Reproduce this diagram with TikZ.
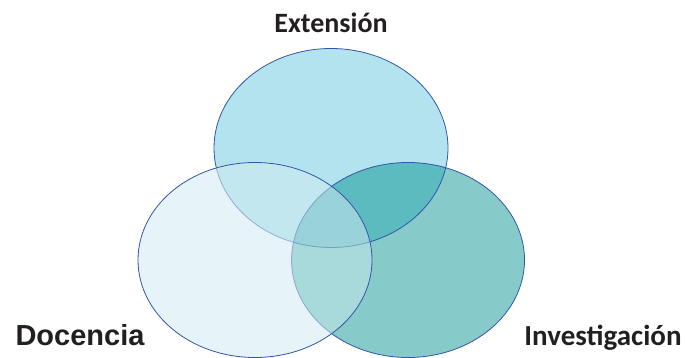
\documentclass[tikz,border=0pt]{standalone}
\usepackage{fontspec}
\setmainfont{Carlito}
\newfontfamily\arialfont{Liberation Sans}
\definecolor{cTop}{HTML}{B3E3EE}
\definecolor{cLeft}{HTML}{E6F3F9}
\definecolor{cRight}{HTML}{86CBCA}
\definecolor{cTR}{HTML}{5CBBBF}
\definecolor{cTL}{HTML}{C3E7EF}
\definecolor{cLR}{HTML}{A8D9DB}
\definecolor{cAll}{HTML}{99D2D8}
\definecolor{cEdge}{HTML}{3356A8}
\definecolor{cText}{HTML}{231F20}

% the three circles of the diagram
\def\ellT{(331,148) ellipse [x radius=117, y radius=99.5]}
\def\ellL{(255,260) ellipse [x radius=117, y radius=97.5]}
\def\ellR{(408,260) ellipse [x radius=116.5, y radius=97.5]}

% fills of every region, overlaps included
\newcommand{\vennfills}{%
  \fill[cTop] \ellT;
  \fill[cRight] \ellR;
  \fill[cLeft] \ellL;
  \begin{scope}\clip \ellR; \fill[cLR] \ellL; \end{scope}
  \begin{scope}
    \clip \ellT;
    \fill[cTR] \ellR;
    \fill[cTL] \ellL;
    \clip \ellR;
    \fill[cAll] \ellL;
  \end{scope}}

\tikzset{
  edge/.style={draw=cEdge, line width=0.8pt},
  label/.style={text=cText, anchor=base, inner sep=0pt}
}

\begin{document}
\begin{tikzpicture}[x=1pt, y=-1pt]
\useasboundingbox (0,0) rectangle (695,358);
\vennfills
\draw[edge] \ellT;
\draw[edge] \ellR;
% the lower-left circle lies over the others and veils their outlines
\begin{scope}[transparency group, opacity=0.6]
  \clip \ellL;
  \vennfills
\end{scope}
\draw[edge] \ellL;

\node[label, font=\bfseries\fontsize{28}{30}\selectfont] (ext) at (331,33) {Extensión};
\node[label, font=\arialfont\bfseries\fontsize{29}{31}\selectfont] (doc) at (80,345) {Docencia};
\node[label, font=\bfseries\fontsize{29}{31}\selectfont] (inv) at (603,345) {Investigación};
\end{tikzpicture}
\end{document}
